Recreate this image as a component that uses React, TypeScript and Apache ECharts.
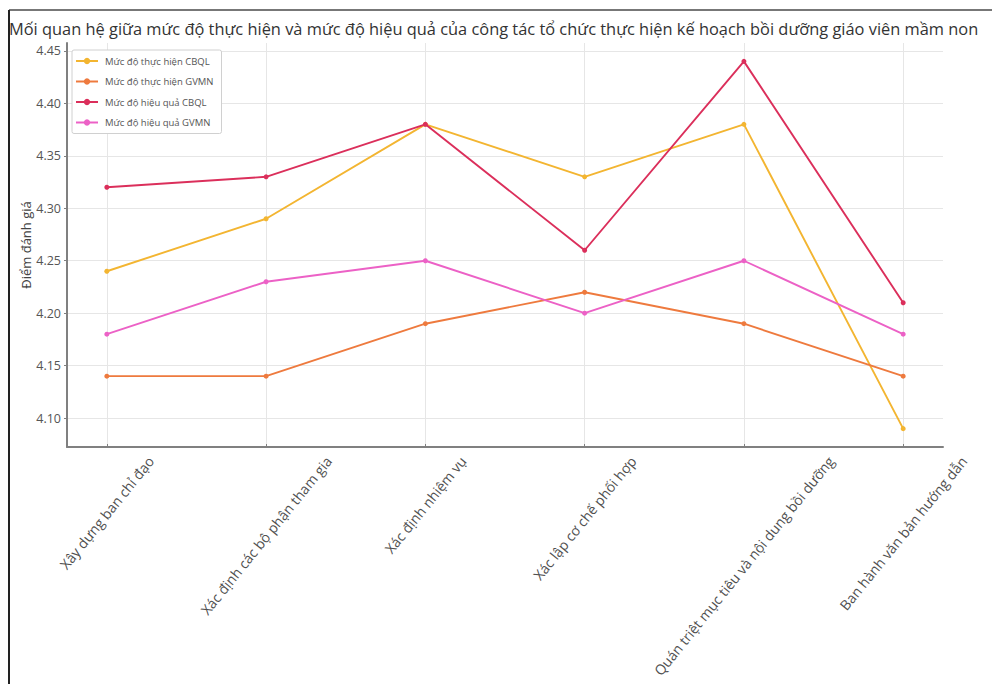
import React, { useEffect, useRef } from "react";
import * as echarts from "echarts";

const titleText =
  "Mối quan hệ giữa mức độ thực hiện và mức độ hiệu quả của công tác tổ chức thực hiện kế hoạch bồi dưỡng giáo viên mầm non";
const yAxisName = "Điểm đánh giá";

const categories = [
  "Xây dựng ban chỉ đạo",
  "Xác định các bộ phận tham gia",
  "Xác định nhiệm vụ",
  "Xác lập cơ chế phối hợp",
  "Quán triệt mục tiêu và nội dung bồi dưỡng",
  "Ban hành văn bản hướng dẫn",
];

const seriesNames = [
  "Mức độ thực hiện CBQL",
  "Mức độ thực hiện GVMN",
  "Mức độ hiệu quả CBQL",
  "Mức độ hiệu quả GVMN",
];

const thucHienCBQL = [4.24, 4.29, 4.38, 4.33, 4.38, 4.09];
const thucHienGVMN = [4.14, 4.14, 4.19, 4.22, 4.19, 4.14];
const hieuQuaCBQL = [4.32, 4.33, 4.38, 4.26, 4.44, 4.21];
const hieuQuaGVMN = [4.18, 4.23, 4.25, 4.2, 4.25, 4.18];

const seriesValues = [thucHienCBQL, thucHienGVMN, hieuQuaCBQL, hieuQuaGVMN];
const colors = ["#f3b531", "#ee7a3e", "#db2f5b", "#ec61c6"];

export default function App() {
  const ref = useRef<HTMLDivElement>(null);

  useEffect(() => {
    document.body.style.margin = "0";
    const chart = echarts.init(ref.current!, null, { renderer: "svg" });

    const labelFont = 14;
    const labelFamily = "Open Sans";
    const rotateDeg = 51;
    const theta = (rotateDeg * Math.PI) / 180;
    const ctx = document.createElement("canvas").getContext("2d")!;
    ctx.font = `${labelFont}px ${labelFamily}`;
    const h = labelFont * 1.2;
    const rich: Record<string, any> = {};
    categories.forEach((c, i) => {
      const w = ctx.measureText(c).width;
      const k = (w * Math.sin(theta) + h * Math.cos(theta)) / 2;
      rich["l" + i] = {
        fontSize: labelFont,
        fontFamily: labelFamily,
        color: "#505050",
        padding: [2 * k * Math.cos(theta), 2 * k * Math.sin(theta), 0, 0],
      };
    });

    const axisColor = "#808080";
    const gridColor = "#e6e6e6";

    chart.setOption({
      animation: false,
      backgroundColor: "#ffffff",
      title: {
        text: titleText,
        left: 9,
        top: 20,
        padding: 0,
        textStyle: {
          fontSize: 16.4,
          fontWeight: "normal",
          color: "#333",
          fontFamily: "Open Sans",
        },
      },
      graphic: [
        {
          type: "line",
          shape: { x1: 9, y1: 10, x2: 992, y2: 10 },
          style: { stroke: "#777", lineWidth: 2 },
          silent: true,
        },
        {
          type: "line",
          shape: { x1: 9, y1: 10, x2: 9, y2: 684 },
          style: { stroke: "#222", lineWidth: 2 },
          silent: true,
        },
      ],
      legend: {
        orient: "vertical",
        left: 72,
        top: 50,
        padding: [6, 8, 6, 3],
        itemWidth: 22,
        itemHeight: 8,
        itemGap: 10.5,
        backgroundColor: "#fff",
        borderColor: "#d0d0d0",
        borderWidth: 1,
        borderRadius: 2,
        textStyle: { fontSize: 9.5, color: "#555", fontFamily: "Open Sans", padding: [0, 0, 0, 2] },
        data: seriesNames,
      },
      grid: { left: 67, right: 49, top: 43, bottom: 237 },
      xAxis: {
        type: "value",
        min: -0.25,
        max: 5.25,
        splitNumber: 5,
        minInterval: 1,
        maxInterval: 1,
        axisLine: { show: true, onZero: false, lineStyle: { color: axisColor, width: 2 } },
        axisTick: { show: true, inside: true, length: 3, lineStyle: { color: axisColor } },
        splitLine: { show: true, showMinLine: false, showMaxLine: false, lineStyle: { color: gridColor, width: 1 } },
        axisLabel: {
          show: true,
          interval: 0,
          rotate: rotateDeg,
          align: "center",
          verticalAlign: "middle",
          margin: 6,
          showMinLabel: false,
          showMaxLabel: false,
          hideOverlap: false,
          formatter: (v: number) => {
            const i = Math.round(v);
            if (Math.abs(v - i) > 1e-6 || i < 0 || i >= categories.length) return "";
            return `{l${i}|${categories[i]}}`;
          },
          rich,
        },
      },
      yAxis: {
        type: "value",
        min: 4.0725,
        max: 4.4575,
        splitNumber: 7,
        minInterval: 0.05,
        maxInterval: 0.05,
        name: yAxisName,
        nameLocation: "middle",
        nameGap: 35,
        nameMoveOverlap: false,
        nameTextStyle: { fontSize: 13, color: "#444", fontFamily: "Open Sans" },
        axisLine: { show: true, onZero: false, lineStyle: { color: axisColor, width: 2 } },
        axisTick: { show: true, inside: false, length: 3, lineStyle: { color: axisColor } },
        splitLine: { show: true, showMinLine: false, showMaxLine: false, lineStyle: { color: gridColor, width: 1 } },
        axisLabel: {
          fontSize: 12.5,
          color: "#555",
          fontFamily: "Open Sans",
          margin: 6,
          showMinLabel: false,
          showMaxLabel: false,
          formatter: (v: number) => {
            const r = Math.round(v * 100) / 100;
            if (Math.abs(v - r) > 1e-6) return "";
            return r.toFixed(2);
          },
        },
      },
      series: seriesNames.map((name, s) => ({
        name,
        type: "line",
        data: seriesValues[s].map((v, i) => [i, v]),
        symbol: "circle",
        symbolSize: 5,
        itemStyle: { color: colors[s] },
        lineStyle: { color: colors[s], width: 1.9 },
        z: 2 + s,
      })),
    });

    return () => chart.dispose();
  }, []);

  return <div ref={ref} style={{ width: 992, height: 684 }} />;
}
